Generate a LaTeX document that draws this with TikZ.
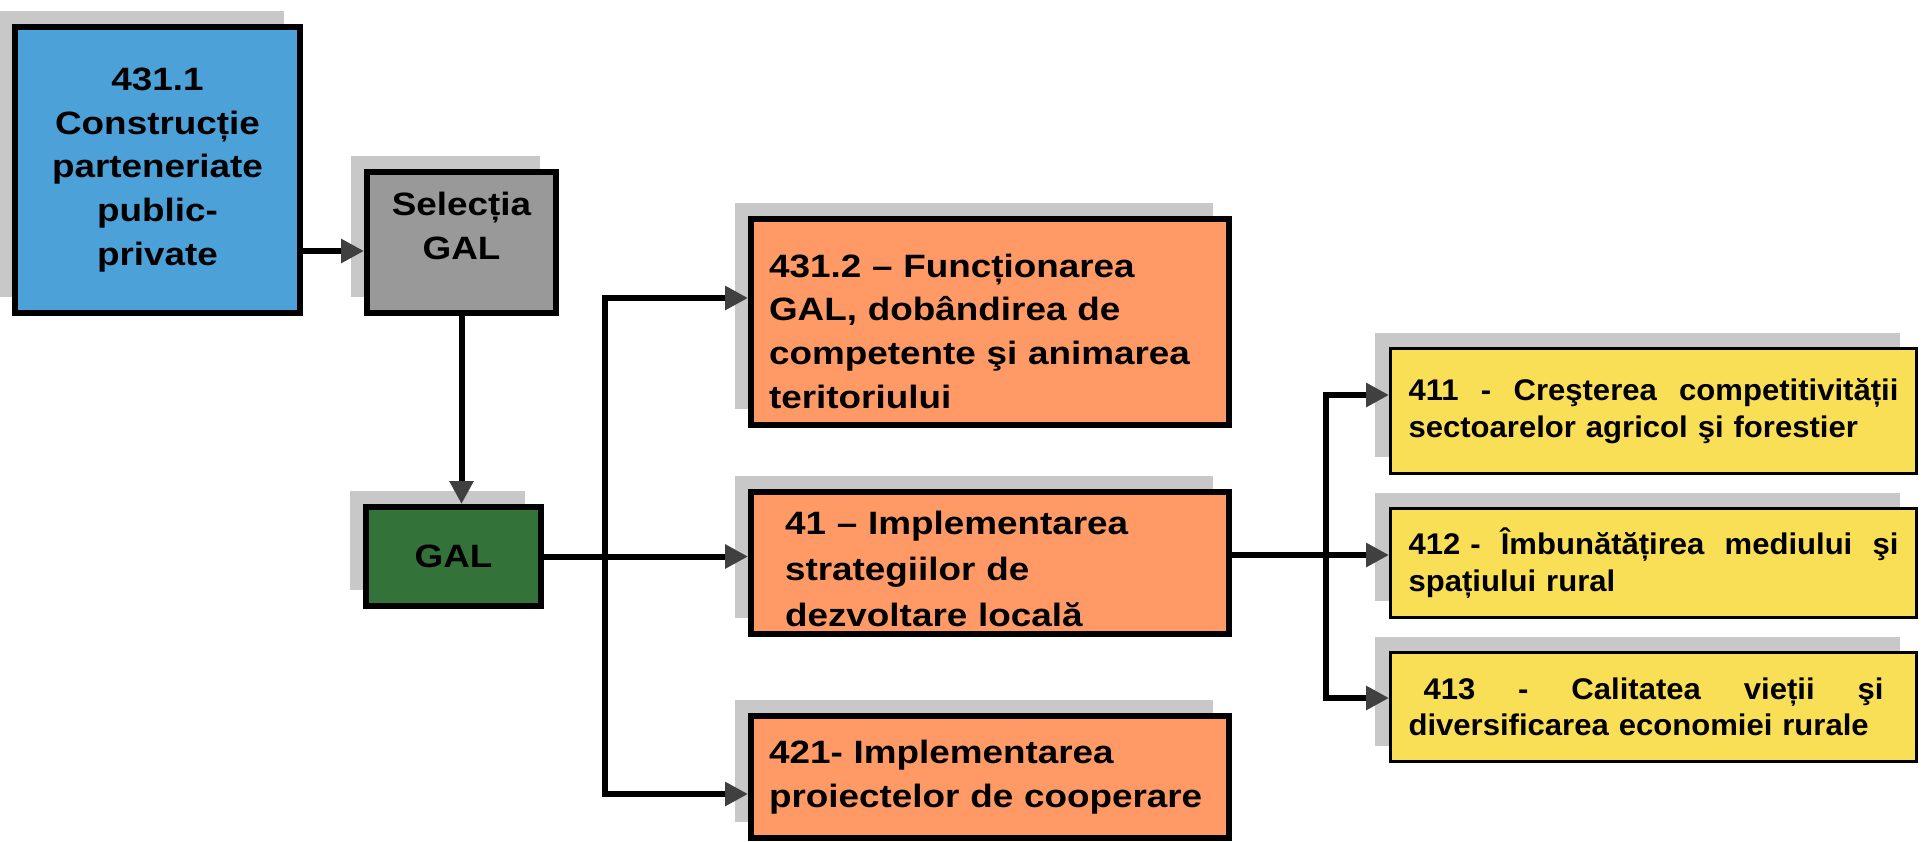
\documentclass[tikz,border=0pt]{standalone}
\usepackage{fontspec}
\setmainfont{Liberation Sans}
\newfontfamily\boxfont[FakeStretch=1.14]{Liberation Sans}
\newfontfamily\listfont[FakeStretch=1.04]{Liberation Sans}
\usepackage{xcolor}
\usetikzlibrary{arrows.meta, shadows}

\definecolor{boxblue}{RGB}{77,161,217}
\definecolor{boxgray}{RGB}{153,153,153}
\definecolor{boxgreen}{RGB}{51,115,58}
\definecolor{boxorange}{RGB}{255,153,102}
\definecolor{boxyellow}{RGB}{249,223,85}
\definecolor{shadowgray}{RGB}{200,200,200}
\definecolor{tipgray}{RGB}{64,64,64}

\newcommand{\jline}[1]{\hbox to 9.8cm{#1}}

\begin{document}
\begin{tikzpicture}[x = 0.02cm, y = -0.02cm]
			\tikzstyle{box} = [draw, rectangle, line width = 0.12cm, inner sep = 0pt, align = center, font = \boxfont\bfseries\fontsize{18.4}{25}\selectfont, drop shadow = {shadow xshift = -0.32cm, shadow yshift = 0.32cm, fill = shadowgray, opacity = 1}]
			\tikzstyle{orange} = [box, fill = boxorange, minimum width = 9.56cm, align = left]
			\tikzstyle{yellow} = [box, fill = boxyellow, line width = 0.06cm, minimum width = 10.52cm, inner xsep = 0.36cm, text width = 9.8cm, align = left, font = \listfont\bfseries\fontsize{17}{20.8}\selectfont]
			\tikzstyle{conn} = [line width = 0.12cm, -{Triangle[length = 0.46cm, width = 0.46cm, color = tipgray]}]

			\useasboundingbox (0, 0) rectangle (1921, 842);

			\path (157.5, 170) node[box, fill = boxblue, minimum width = 5.7cm, minimum height = 5.72cm] (blue) {431.1\\Construcție\\parteneriate\\public-\\private};
			\path (461.5, 242.5) node[box, fill = boxgray, minimum width = 3.78cm, minimum height = 2.82cm] (sel) {Selecția\\GAL\\[-6pt]\mbox{}};
			\path (453.5, 556.5) node[box, fill = boxgreen, minimum width = 3.5cm, minimum height = 1.98cm] (gal) {GAL};

			\path (990, 322) node[orange, minimum height = 4.12cm, inner xsep = 0.36cm, text width = 8.84cm] (f4312) {\rule{0pt}{24pt}431.2 – Funcționarea\\GAL, dobândirea de\\competente şi animarea\\teritoriului};
			\path (990, 563) node[orange, minimum height = 2.84cm, inner xsep = 0.68cm, text width = 8.2cm] (f41) {\rule{0pt}{20pt}41 – Implementarea\\[1pt]strategiilor de\\[1pt]dezvoltare locală};
			\path (990, 777) node[orange, minimum height = 2.44cm, inner xsep = 0.36cm, text width = 8.84cm] (f421) {421- Implementarea\\proiectelor de cooperare\\[4pt]};

			\path (1653.5, 411) node[yellow, minimum height = 2.5cm] (m411) {\jline{411\hfill-\hfill Creşterea\hfill competitivității}\\sectoarelor agricol şi forestier};
			\path (1653.5, 563) node[yellow, minimum height = 2.18cm] (m412) {\jline{412 -\hfill Îmbunătățirea\hfill mediului\hfill şi}\\spațiului rural\\[6pt]};
			\path (1653.5, 707) node[yellow, minimum height = 2.18cm] (m413) {\jline{\hspace*{0.3cm}413\hfill-\hfill Calitatea\hfill vieții\hfill şi\hspace*{0.3cm}}\\diversificarea economiei rurale\\[16pt]};

			\coordinate (in0) at (sel.west |- 0, 251);
			\coordinate (in1) at (f4312.west |- 0, 298);
			\coordinate (in3) at (f421.west |- 0, 794);
			\coordinate (jt1) at (605, 0 |- gal.east);
			\coordinate (out2) at (f41.east |- 0, 555);
			\coordinate (jt2) at (1326, 0 |- out2);
			\coordinate (in4) at (m411.west |- 0, 395);
			\coordinate (in6) at (m413.west |- 0, 698);

			\path[draw, conn] (blue.east |- in0) -- (in0);
			\path[draw, conn] (sel.south) -- (sel.south |- gal.north);

			\path[draw, conn] (gal.east) -- (gal.east -| f41.west);
			\path[draw, conn] (jt1) |- (in1);
			\path[draw, conn] (jt1) |- (in3);

			\path[draw, conn] (out2) -- (out2 -| m412.west);
			\path[draw, conn] (jt2) |- (in4);
			\path[draw, conn] (jt2) |- (in6);
		\end{tikzpicture}
\end{document}
